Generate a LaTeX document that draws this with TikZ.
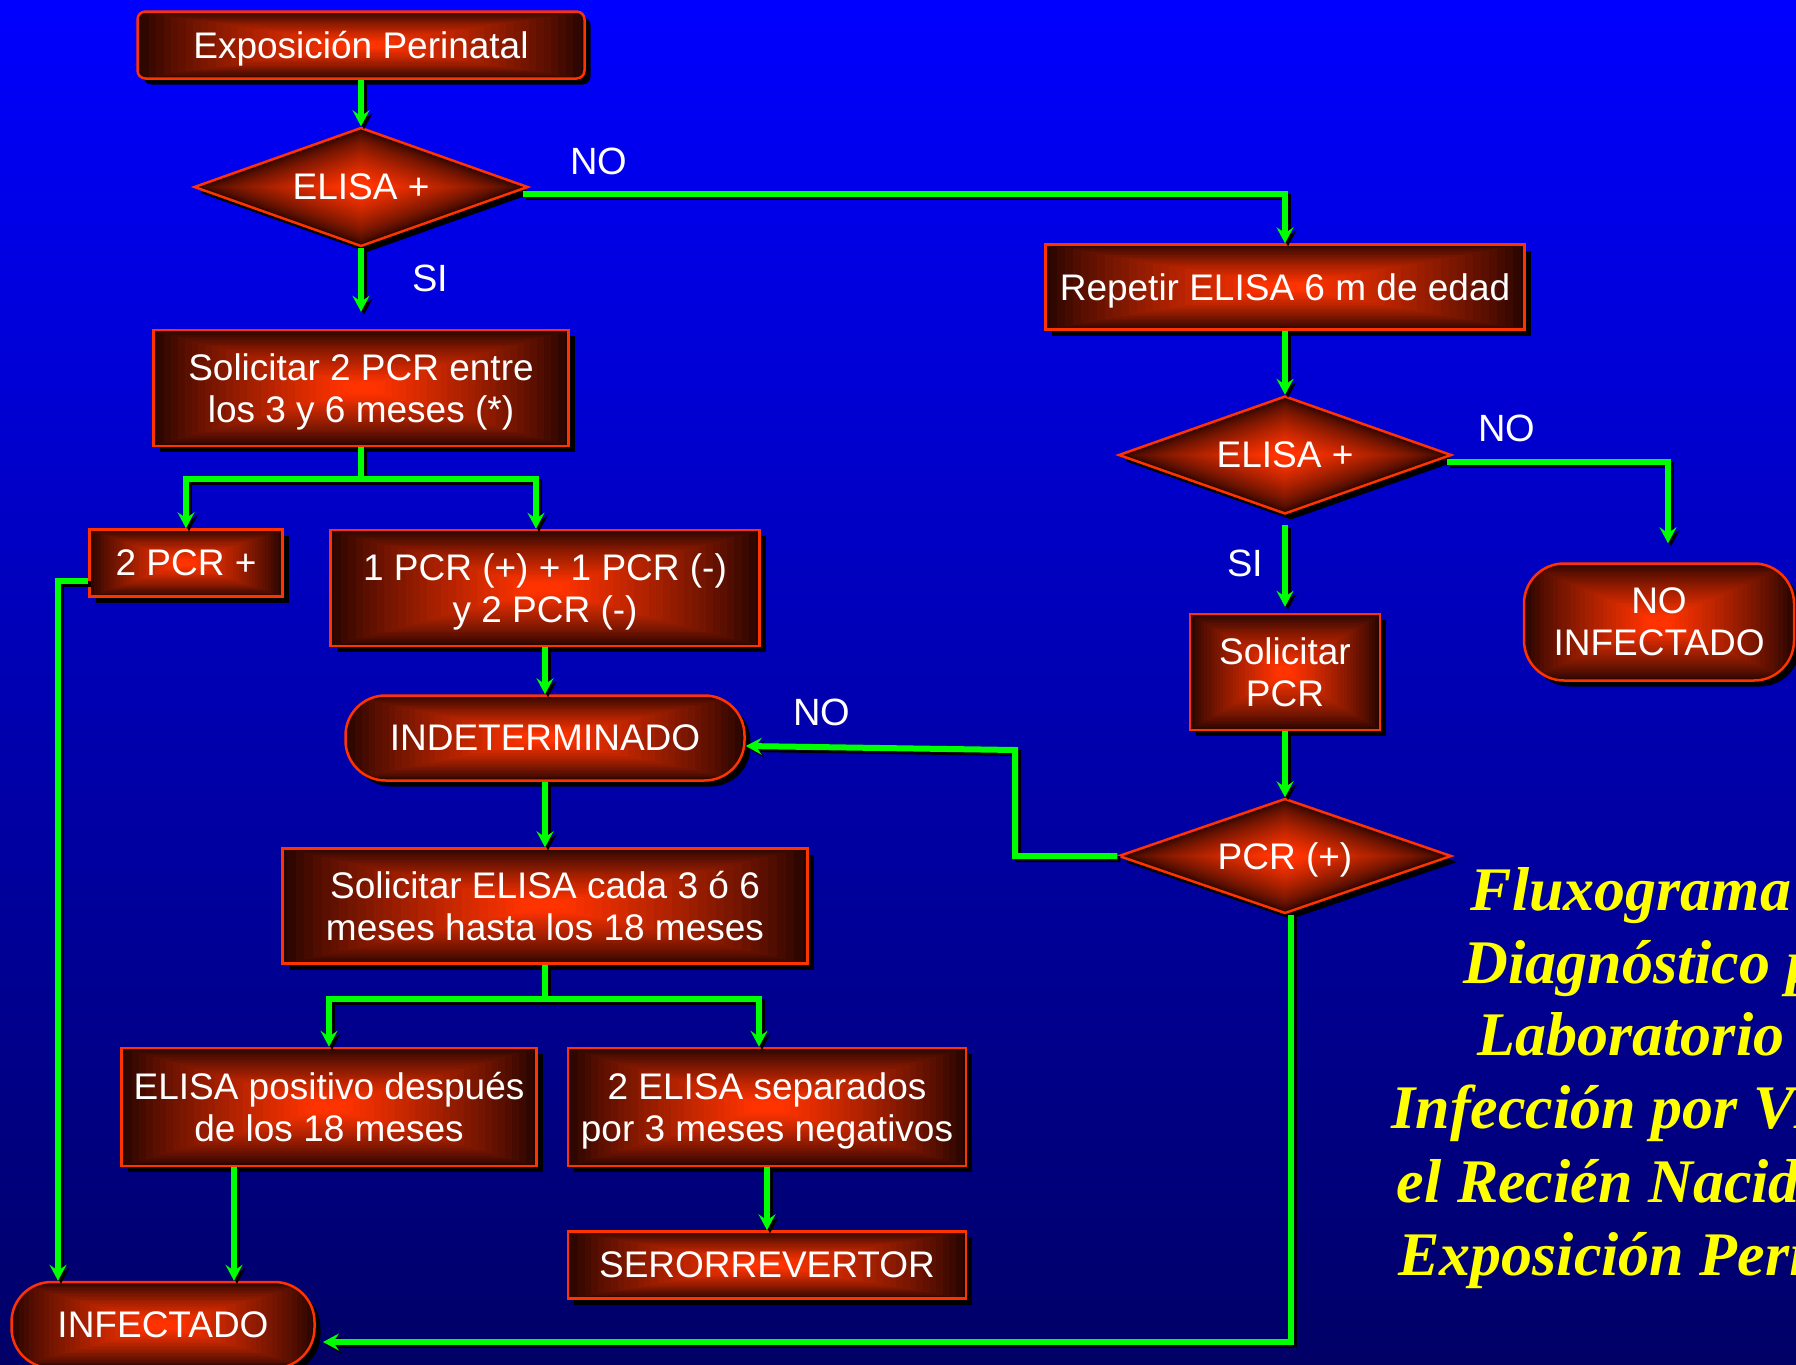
\documentclass[tikz,border=0pt]{standalone}
\usepackage{fontspec}
\setmainfont{Liberation Sans}
\newfontfamily\titlefont{Liberation Serif}
\usetikzlibrary{shapes.geometric,shadows,arrows.meta,calc}
\definecolor{glowA}{HTML}{FF3300}
\definecolor{glowC}{HTML}{260400}
\definecolor{bord}{HTML}{FF3300}
\definecolor{lgreen}{HTML}{00FF00}
\definecolor{bgTop}{HTML}{0000FF}
\definecolor{bgMid}{HTML}{0000C4}
\definecolor{bgBot}{HTML}{000066}
\definecolor{ttlcol}{HTML}{FFFF00}
\begin{document}
\begin{tikzpicture}[x=1pt,y=-1pt,
  basenode/.style={draw=bord, line width=2.5pt, fill=glowC, text=white,
    font=\fontsize{37}{42}\selectfont, align=center, inner sep=0pt, text depth=0pt,
    drop shadow={shadow xshift=6pt, shadow yshift=-6pt, fill=black, opacity=1}},
  rectglow/.style={path picture={
    \foreach \i in {0,...,29}{
      \pgfmathsetmacro\s{(\i+0.5)/30}
      \pgfmathsetmacro\t{1-\s}
      \pgfmathsetmacro\p{min(100,108*\s^0.8)}
      \fill[sharp corners, glowA!\p!glowC]
        ($(path picture bounding box.center)!\t!(path picture bounding box.south west)$) rectangle
        ($(path picture bounding box.center)!\t!(path picture bounding box.north east)$);
    }}},
  diaglow/.style={path picture={
    \foreach \i in {0,...,29}{
      \pgfmathsetmacro\s{(\i+0.5)/30}
      \pgfmathsetmacro\t{1-\s}
      \pgfmathsetmacro\p{min(100,110*\s^0.7)}
      \fill[sharp corners, glowA!\p!glowC]
        ($(path picture bounding box.center)!\t!(path picture bounding box.north)$) --
        ($(path picture bounding box.center)!\t!(path picture bounding box.east)$) --
        ($(path picture bounding box.center)!\t!(path picture bounding box.south)$) --
        ($(path picture bounding box.center)!\t!(path picture bounding box.west)$) -- cycle;
    }}},
  boxr/.style={basenode, rectangle, rectglow},
  pill/.style={basenode, rectangle, rounded corners=40pt, rectglow},
  dia/.style={basenode, diamond, aspect=2.8, diaglow},
  wire/.style={draw=lgreen, line width=6pt,
    preaction={draw=black, line width=6pt, transform canvas={xshift=3pt,yshift=-3pt}}},
  conn/.style={wire, -{Stealth[length=16pt,width=17pt,inset=6pt]}},
  lab/.style={text=white, font=\fontsize{38}{40}\selectfont, inner sep=0pt},
  ttlf/.style={text=ttlcol, font=\titlefont\bfseries\itshape\fontsize{62}{73}\selectfont, inner sep=0pt, anchor=base}
]
\useasboundingbox (0,0) rectangle (1796,1365);
\clip (0,0) rectangle (1796,1365);
\shade[top color=bgTop, middle color=bgMid, bottom color=bgBot] (0,0) rectangle (1796,1365);

% nodes
\node[boxr, rounded corners=8pt, minimum width=447pt, minimum height=67pt] (expo) at (361,45) {Exposición Perinatal};
\node[dia, minimum width=334pt, minimum height=119pt] (e1) at (361,187) {ELISA +};
\node[boxr, minimum width=479pt, minimum height=85pt] (rep) at (1285,287) {Repetir ELISA 6 m de edad};
\node[dia, minimum width=333pt, minimum height=118pt] (e2) at (1285,455) {ELISA +};
\node[pill, minimum width=270pt, minimum height=117pt] (noinf) at (1659,622) {NO\\INFECTADO};
\node[boxr, minimum width=190pt, minimum height=116pt] (spcr) at (1285,672) {Solicitar\\PCR};
\node[dia, minimum width=333pt, minimum height=115pt] (pcr) at (1285,856) {PCR (+)};
\node[boxr, minimum width=415pt, minimum height=116pt] (s2pcr) at (361,388) {Solicitar 2 PCR entre\\los 3 y 6 meses (*)};
\node[boxr, minimum width=193pt, minimum height=67pt] (p2) at (186,563) {2 PCR +};
\node[boxr, minimum width=429pt, minimum height=116pt] (p1) at (545,588) {1 PCR (+) + 1 PCR (-)\\y 2 PCR (-)};
\node[pill, minimum width=399pt, minimum height=85pt] (ind) at (545,738) {INDETERMINADO};
\node[boxr, minimum width=525pt, minimum height=115pt] (sel) at (545,906) {Solicitar ELISA cada 3 ó 6\\meses hasta los 18 meses};
\node[boxr, minimum width=415pt, minimum height=118pt] (epos) at (329,1107) {ELISA positivo después\\de los 18 meses};
\node[boxr, minimum width=398pt, minimum height=118pt] (eneg) at (767,1107) {2 ELISA separados\\por 3 meses negativos};
\node[boxr, minimum width=398pt, minimum height=67pt] (sero) at (767,1265) {SERORREVERTOR};
\node[pill, minimum width=303pt, minimum height=86pt] (inf) at (163,1325) {INFECTADO};

% labels
\node[lab] (l1) at (599,161) {NO};
\node[lab] (l2) at (430,278) {SI};
\node[lab] (l3) at (1507,428) {NO};
\node[lab] (l4) at (1245,563) {SI};
\node[lab] (l5) at (822,712) {NO};

% helper coordinates
\coordinate (b1) at (361,479);
\coordinate (b2) at (545,999);
\coordinate (k1) at (1015,750);
\coordinate (k2) at (1291,1342);
\coordinate (k3) at (323,1342);
\coordinate (k4) at (58,581);

% connectors
\draw[conn] (expo.south) -- (e1.north);
\draw[conn] (e1.south) -- ([yshift=17pt]s2pcr.north);
\draw[conn] ([xshift=-6pt,yshift=-7pt]e1.east) -| (rep.north);
\draw[conn] (rep.south) -- (e2.north);
\draw[conn] ([xshift=-6pt,yshift=-7pt]e2.east) -| ([xshift=9pt,yshift=19pt]noinf.north);
\draw[conn] ([yshift=-10pt]e2.south) -- ([yshift=6pt]spcr.north);
\draw[conn] (spcr.south) -- (pcr.north);
\draw[conn] (pcr.west) -| (k1) -- ([yshift=-8pt]ind.east);
\draw[conn] (pcr.south -| k2) -- (k2) -- (k3);
\draw[wire] (s2pcr.south) -- (b1);
\draw[conn] (b1) -| (p2.north);
\draw[conn] (b1) -| ([xshift=-9pt]p1.north);
\draw[conn] ([yshift=-18pt]p2.west) -- (k4) -- (k4 |- inf.north);
\draw[conn] (p1.south) -- (ind.north);
\draw[conn] (ind.south) -- (sel.north);
\draw[wire] (sel.south) -- (b2);
\draw[conn] (b2) -| (epos.north);
\draw[conn] (b2) -| ([xshift=-8pt]eneg.north);
\draw[conn] ([xshift=-95pt]epos.south) -- ([xshift=71pt]inf.north);
\draw[conn] (eneg.south) -- (sero.north);

% title
\node[ttlf] (t1) at (1668,910) {Fluxograma de};
\node[ttlf] (t2) at (1668,983) {Diagnóstico por};
\node[ttlf] (t3) at (1668,1055) {Laboratorio de};
\node[ttlf] (t4) at (1668,1128) {Infección por VIH en};
\node[ttlf] (t5) at (1668,1202) {el Recién Nacido con};
\node[ttlf] (t6) at (1668,1275) {Exposición Perinatal};
\end{tikzpicture}
\end{document}
